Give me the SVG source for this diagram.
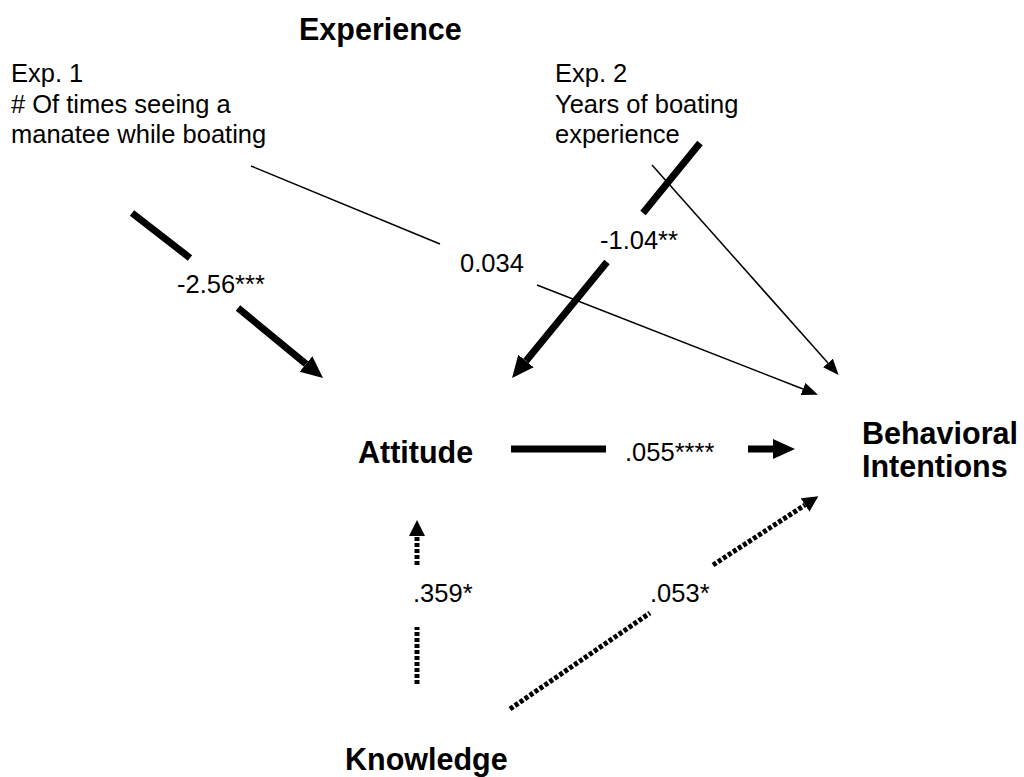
<svg xmlns="http://www.w3.org/2000/svg" width="1024" height="777" viewBox="0 0 1024 777">
<style>
text{font-family:"Liberation Sans",Arial,sans-serif;fill:#000}
.t{font-size:25.5px}
.b{font-size:30.5px;font-weight:bold}
.thick{stroke:#000;stroke-width:7;fill:none}
.thin{stroke:#000;stroke-width:1.5;fill:none}
.dot{stroke:#000;stroke-width:5;fill:none;stroke-dasharray:4 2}
</style>
<defs>
<marker id="ah" markerUnits="userSpaceOnUse" markerWidth="24" markerHeight="22" refX="0" refY="10" orient="auto"><path d="M0,0 L22,10 L0,20 Z" fill="#000"/></marker>
<marker id="ahs" markerUnits="userSpaceOnUse" markerWidth="18" markerHeight="16" refX="0" refY="6.5" orient="auto"><path d="M0,0 L16,6.5 L0,13 Z" fill="#000"/></marker>
<marker id="ahd" markerUnits="userSpaceOnUse" markerWidth="18" markerHeight="18" refX="0" refY="8" orient="auto"><path d="M0,0 L16,8 L0,16 Z" fill="#000"/></marker>
</defs>
<g id="experience"><text class="b" x="299" y="40">Experience</text></g>
<g id="exp1"><text class="t" x="11" y="82">Exp. 1</text><text class="t" x="11" y="113"># Of times seeing a</text><text class="t" x="11" y="143">manatee while boating</text></g>
<g id="exp2"><text class="t" x="555" y="82">Exp. 2</text><text class="t" x="555" y="113">Years of boating</text><text class="t" x="555" y="143">experience</text></g>
<g id="attitude"><text class="b" x="358" y="463">Attitude</text></g>
<g id="behavioral"><text class="b" x="862" y="444">Behavioral</text><text class="b" x="862" y="477">Intentions</text></g>
<g id="knowledge"><text class="b" x="345" y="770">Knowledge</text></g>
<g id="connectors">
<path class="thick" d="M132,213 L190,258 M238,308 L306,364" marker-end="url(#ah)"/>
<path class="thin" d="M251,166 L440,244 M537,285 L803,389" marker-end="url(#ahs)"/>
<path class="thick" d="M700,143 L643,213 M607,262 L526,361" marker-end="url(#ah)"/>
<path class="thin" d="M652,165 L828,363" marker-end="url(#ahs)"/>
<path class="thick" d="M511,449 L606,449 M748,449 L773,449" marker-end="url(#ah)"/>
<path class="dot" d="M417,684 L417,627 M417,565 L417,536" marker-end="url(#ahd)"/>
<path class="dot" d="M510,709 L650,613 M713,565 L805,505" marker-end="url(#ahd)"/>
<text class="t" x="177" y="293">-2.56***</text>
<text class="t" x="460" y="272">0.034</text>
<text class="t" x="600" y="249">-1.04**</text>
<text class="t" x="625" y="461">.055****</text>
<text class="t" x="413" y="602">.359*</text>
<text class="t" x="650" y="602">.053*</text>
</g>
</svg>
